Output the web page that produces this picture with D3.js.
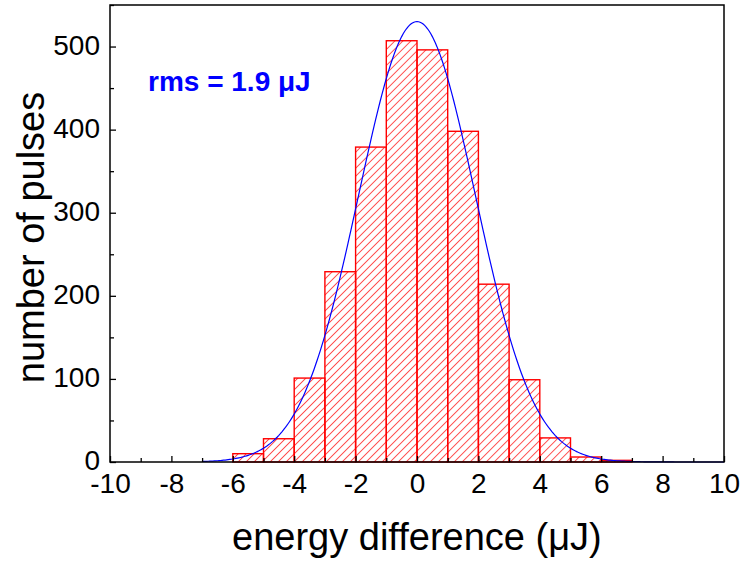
<!DOCTYPE html>
<html>
<head>
<meta charset="utf-8">
<script src="https://cdn.jsdelivr.net/npm/d3@7"></script>
<style>
  body { margin: 0; background: #fff; }
  text { font-family: "Liberation Sans", Arial, sans-serif; }
</style>
</head>
<body>
<svg id="chart" width="743" height="563"></svg>
<script>
// histogram bins (left edge, µJ) and counts
var binStart = [-6, -5, -4, -3, -2, -1, 0, 1, 2, 3, 4, 5, 6];
var counts = [10, 28, 101, 229, 379, 507, 496, 398, 214, 99, 29, 6, 2];
var binWidth = 1;

// gaussian fit parameters
var fitAmp = 530, fitCenter = 0, fitSigma = 1.9;
var fitRange = [-7, 10];

var xTicks = [-10, -8, -6, -4, -2, 0, 2, 4, 6, 8, 10];
var yTicks = [0, 100, 200, 300, 400, 500];

var svg = d3.select('#chart');
var m = { left: 110, right: 19, top: 5, bottom: 101 };
var W = 743 - m.left - m.right, H = 563 - m.top - m.bottom;

var x = d3.scaleLinear().domain([-10, 10]).range([0, W]);
var y = d3.scaleLinear().domain([0, 550]).range([H, 0]);

var defs = svg.append('defs');
defs.append('pattern')
    .attr('id', 'hatch')
    .attr('patternUnits', 'userSpaceOnUse')
    .attr('width', 5.66)
    .attr('height', 5.66)
    .attr('patternTransform', 'rotate(45)')
  .append('line')
    .attr('x1', 0).attr('y1', 0)
    .attr('x2', 0).attr('y2', 5.66)
    .attr('stroke', '#ff0000')
    .attr('stroke-width', 1.3);

var g = svg.append('g').attr('transform', `translate(${m.left},${m.top})`);

// bars
g.selectAll('rect.bar')
    .data(counts)
    .enter().append('rect')
    .attr('class', 'bar')
    .attr('x', (d, i) => x(binStart[i]))
    .attr('width', (d, i) => x(binStart[i] + binWidth) - x(binStart[i]))
    .attr('y', (d) => y(d))
    .attr('height', (d) => y(0) - y(d))
    .attr('fill', 'url(#hatch)')
    .attr('stroke', '#ff0000')
    .attr('stroke-width', 1.4);

// fit curve
var fitPts = d3.range(fitRange[0], fitRange[1] + 0.001, 0.05).map((v) => {
    return [v, fitAmp * Math.exp(-0.5 * Math.pow((v - fitCenter) / fitSigma, 2))];
});
g.append('path')
    .datum(fitPts)
    .attr('fill', 'none')
    .attr('stroke', '#0000ff')
    .attr('stroke-width', 1.2)
    .attr('d', d3.line().x((d) => x(d[0])).y((d) => y(d[1])));

// axes: ticks inward
var xAxis = g.append('g').attr('transform', `translate(0,${H})`)
    .call(d3.axisBottom(x).tickValues(xTicks).tickSize(-6).tickPadding(11).tickFormat(d3.format('d')));
var xMinor = g.append('g').attr('transform', `translate(0,${H})`)
    .call(d3.axisBottom(x).tickValues(d3.range(-9, 10, 2)).tickSize(-4).tickFormat(''));
var yAxis = g.append('g')
    .call(d3.axisLeft(y).tickValues(yTicks).tickSize(-6).tickPadding(10));
var yMinor = g.append('g')
    .call(d3.axisLeft(y).tickValues(d3.range(50, 551, 100)).tickSize(-4).tickFormat(''));

[xAxis, xMinor, yAxis, yMinor].forEach((a) => {
    a.select('.domain').remove();
    a.selectAll('line').attr('stroke', '#000').attr('stroke-width', 1.3);
    a.selectAll('text').attr('font-size', 28).attr('fill', '#000')
        .style('font-family', '"Liberation Sans", Arial, sans-serif');
});
xAxis.selectAll('text').text((d) => d < 0 ? '-' + Math.abs(d) : d);
yAxis.selectAll('text').attr('dy', '0.27em');

// frame
g.append('rect')
    .attr('width', W).attr('height', H)
    .attr('fill', 'none')
    .attr('stroke', '#000')
    .attr('stroke-width', 1.5);

// labels
svg.append('text')
    .attr('x', 232).attr('y', 550)
    .attr('font-size', 38)
    .text('energy difference (\u03bcJ)');

svg.append('text')
    .attr('transform', `translate(44,${m.top + H / 2 + 4}) rotate(-90)`)
    .attr('text-anchor', 'middle')
    .attr('font-size', 38)
    .text('number of pulses');

svg.append('text')
    .attr('x', 148).attr('y', 91)
    .attr('font-size', 28)
    .attr('font-weight', 'bold')
    .attr('fill', '#0000ff')
    .text('rms = 1.9 \u03bcJ');
</script>
</body>
</html>
